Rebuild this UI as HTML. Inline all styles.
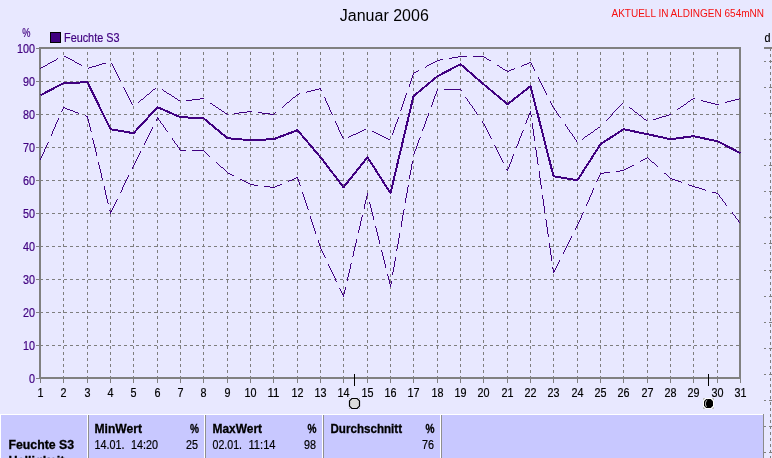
<!DOCTYPE html>
<html lang="de"><head><meta charset="utf-8"><title>Januar 2006</title>
<style>html,body{margin:0;padding:0;background:#e8e8ff;overflow:hidden}svg{display:block;will-change:transform}text{font-family:"Liberation Sans",Arial,sans-serif}.s{font-size:12.5px;stroke-width:.2px}.b{font-size:12.5px;font-weight:bold;stroke-width:.3px}</style></head><body>
<svg width="772" height="458" viewBox="0 0 772 458">
<rect width="772" height="458" fill="#e8e8ff"/>
<path d="M40 345.5H739M40 312.5H739M40 279.5H739M40 246.5H739M40 213.5H739M40 180.5H739M40 147.5H739M40 114.5H739M40 81.5H739M63.5 379V49M87.5 379V49M110.5 379V49M133.5 379V49M157.5 379V49M180.5 379V49M203.5 379V49M227.5 379V49M250.5 379V49M273.5 379V49M297.5 379V49M320.5 379V49M343.5 379V49M367.5 379V49M390.5 379V49M413.5 379V49M437.5 379V49M460.5 379V49M483.5 379V49M507.5 379V49M530.5 379V49M553.5 379V49M577.5 379V49M600.5 379V49M623.5 379V49M647.5 379V49M670.5 379V49M693.5 379V49M717.5 379V49" stroke="#7e7e7e" stroke-width="1" stroke-dasharray="3 3" fill="none" shape-rendering="crispEdges"/>
<path d="M36 378.5H39M36 345.5H39M36 312.5H39M36 279.5H39M36 246.5H39M36 213.5H39M36 180.5H39M36 147.5H39M36 114.5H39M36 81.5H39M36 48.5H39M40.5 379V383M63.5 379V383M87.5 379V383M110.5 379V383M133.5 379V383M157.5 379V383M180.5 379V383M203.5 379V383M227.5 379V383M250.5 379V383M273.5 379V383M297.5 379V383M320.5 379V383M343.5 379V383M367.5 379V383M390.5 379V383M413.5 379V383M437.5 379V383M460.5 379V383M483.5 379V383M507.5 379V383M530.5 379V383M553.5 379V383M577.5 379V383M600.5 379V383M623.5 379V383M647.5 379V383M670.5 379V383M693.5 379V383M717.5 379V383M740.5 379V383" stroke="#808080" stroke-width="1" fill="none" shape-rendering="crispEdges"/>
<rect x="40" y="48" width="700" height="330" fill="none" stroke="#808080" stroke-width="2" shape-rendering="crispEdges"/>
<path d="M40 68h1v1h-1zM41 67h2v1h-2zM43 66h2v1h-2zM45 65h2v1h-2zM47 64h1v1h-1zM48 63h2v1h-2zM50 62h2v1h-2zM52 61h2v1h-2zM54 60h2v1h-2zM56 59h1v1h-1zM57 58h1v1h-1zM64 56h2v1h-2zM66 57h2v1h-2zM68 58h2v1h-2zM70 59h2v1h-2zM72 60h2v1h-2zM74 61h1v1h-1zM75 62h2v1h-2zM77 63h2v1h-2zM79 64h2v1h-2zM81 65h1v1h-1zM88 68h1v1h-1zM89 67h3v1h-3zM92 66h4v1h-4zM96 65h3v1h-3zM99 64h3v1h-3zM102 63h4v1h-4zM111 63h1v1h-1zM112 64h1v2h-1zM113 66h1v2h-1zM114 68h1v2h-1zM115 70h1v2h-1zM116 72h1v2h-1zM117 74h1v2h-1zM118 76h1v2h-1zM119 78h1v2h-1zM120 80h1v1h-1zM123 87h1v1h-1zM124 88h1v2h-1zM125 90h1v2h-1zM126 92h1v2h-1zM127 94h1v2h-1zM128 96h1v2h-1zM129 98h1v2h-1zM130 100h1v2h-1zM131 102h1v2h-1zM132 104h1v1h-1zM138 102h1v1h-1zM139 101h1v1h-1zM140 100h1v1h-1zM141 99h2v1h-2zM143 98h1v1h-1zM144 97h1v1h-1zM145 96h1v1h-1zM146 95h1v1h-1zM147 94h2v1h-2zM149 93h1v1h-1zM150 92h1v1h-1zM151 91h1v1h-1zM152 90h1v1h-1zM153 89h2v1h-2zM155 88h1v1h-1zM162 89h1v1h-1zM163 90h1v1h-1zM164 91h2v1h-2zM166 92h1v1h-1zM167 93h2v1h-2zM169 94h2v1h-2zM171 95h1v1h-1zM172 96h2v1h-2zM174 97h1v1h-1zM175 98h2v1h-2zM177 99h1v1h-1zM178 100h2v1h-2zM186 100h6v1h-6zM192 99h8v1h-8zM200 98h3v1h-3zM203 98h1v1h-1zM210 103h2v1h-2zM212 104h1v1h-1zM213 105h2v1h-2zM215 106h1v1h-1zM216 107h2v1h-2zM218 108h1v1h-1zM219 109h2v1h-2zM221 110h1v1h-1zM222 111h2v1h-2zM224 112h1v1h-1zM225 113h2v1h-2zM227 114h1v1h-1zM234 113h5v1h-5zM239 112h8v1h-8zM247 111h3v1h-3zM250 111h2v1h-2zM258 112h4v1h-4zM262 113h8v1h-8zM270 114h3v1h-3zM273 114h1v1h-1zM274 113h1v1h-1zM275 112h1v1h-1zM282 107h1v1h-1zM283 106h1v1h-1zM284 105h1v1h-1zM285 104h1v1h-1zM286 103h1v1h-1zM287 102h2v1h-2zM289 101h1v1h-1zM290 100h1v1h-1zM291 99h1v1h-1zM292 98h1v1h-1zM293 97h2v1h-2zM295 96h1v1h-1zM296 95h1v1h-1zM297 94h2v1h-2zM299 93h1v1h-1zM306 92h1v1h-1zM307 91h4v1h-4zM311 90h4v1h-4zM315 89h4v1h-4zM319 88h1v1h-1zM320 88h1v2h-1zM321 90h1v1h-1zM324 97h1v1h-1zM325 98h1v3h-1zM326 101h1v2h-1zM327 103h1v2h-1zM328 105h1v2h-1zM329 107h1v3h-1zM330 110h1v2h-1zM331 112h1v2h-1zM332 114h1v1h-1zM335 121h1v2h-1zM336 123h1v2h-1zM337 125h1v2h-1zM338 127h1v3h-1zM339 130h1v2h-1zM340 132h1v2h-1zM341 134h1v2h-1zM342 136h1v2h-1zM343 138h1v1h-1zM348 137h1v1h-1zM349 136h2v1h-2zM351 135h2v1h-2zM353 134h3v1h-3zM356 133h2v1h-2zM358 132h2v1h-2zM360 131h2v1h-2zM362 130h2v1h-2zM364 129h2v1h-2zM372 131h2v1h-2zM374 132h2v1h-2zM376 133h2v1h-2zM378 134h2v1h-2zM380 135h2v1h-2zM382 136h2v1h-2zM384 137h2v1h-2zM386 138h2v1h-2zM388 139h2v1h-2zM392 133h1v2h-1zM393 130h1v3h-1zM394 127h1v3h-1zM395 124h1v3h-1zM396 122h1v2h-1zM397 119h1v3h-1zM398 117h1v2h-1zM400 110h1v1h-1zM401 107h1v3h-1zM402 104h1v3h-1zM403 101h1v3h-1zM404 98h1v3h-1zM405 95h1v3h-1zM406 93h1v2h-1zM409 84h1v3h-1zM410 81h1v3h-1zM411 78h1v3h-1zM412 75h1v3h-1zM413 74h1v1h-1zM413 73h1v1h-1zM414 72h2v1h-2zM416 71h2v1h-2zM418 70h1v1h-1zM425 67h1v1h-1zM426 66h1v1h-1zM427 65h2v1h-2zM429 64h2v1h-2zM431 63h2v1h-2zM433 62h2v1h-2zM435 61h2v1h-2zM437 60h3v1h-3zM440 59h3v1h-3zM449 58h3v1h-3zM452 57h6v1h-6zM458 56h2v1h-2zM460 56h7v1h-7zM473 56h10v1h-10zM483 56h1v1h-1zM484 57h2v1h-2zM486 58h1v1h-1zM487 59h2v1h-2zM489 60h2v1h-2zM497 65h2v1h-2zM499 66h1v1h-1zM500 67h2v1h-2zM502 68h1v1h-1zM503 69h2v1h-2zM505 70h2v1h-2zM507 71h2v1h-2zM509 70h2v1h-2zM511 69h3v1h-3zM514 68h1v1h-1zM521 66h1v1h-1zM522 65h2v1h-2zM524 64h3v1h-3zM527 63h2v1h-2zM529 62h1v1h-1zM530 62h1v1h-1zM531 63h1v2h-1zM532 65h1v2h-1zM533 67h1v2h-1zM534 69h1v2h-1zM538 77h1v2h-1zM539 79h1v2h-1zM540 81h1v2h-1zM541 83h1v2h-1zM542 85h1v2h-1zM543 87h1v2h-1zM544 89h1v2h-1zM545 91h1v2h-1zM546 93h1v2h-1zM550 101h1v2h-1zM551 103h1v2h-1zM552 105h1v2h-1zM553 107h1v1h-1zM554 108h1v2h-1zM555 110h1v1h-1zM556 111h1v2h-1zM557 113h1v1h-1zM558 114h1v2h-1zM559 116h1v1h-1zM560 117h1v1h-1zM565 124h1v2h-1zM566 126h1v1h-1zM567 127h1v2h-1zM568 129h1v1h-1zM569 130h1v2h-1zM570 132h1v1h-1zM571 133h1v1h-1zM572 134h1v2h-1zM573 136h1v1h-1zM574 137h1v2h-1zM575 139h1v1h-1zM576 140h1v2h-1zM582 139h1v1h-1zM583 138h1v1h-1zM584 137h1v1h-1zM585 136h2v1h-2zM587 135h1v1h-1zM588 134h2v1h-2zM590 133h1v1h-1zM591 132h2v1h-2zM593 131h1v1h-1zM594 130h1v1h-1zM595 129h2v1h-2zM597 128h1v1h-1zM598 127h2v1h-2zM606 120h1v1h-1zM607 119h1v1h-1zM608 118h1v1h-1zM609 117h1v1h-1zM610 116h1v1h-1zM611 115h1v1h-1zM612 113h1v2h-1zM613 112h1v1h-1zM614 111h1v1h-1zM615 110h1v1h-1zM616 109h1v1h-1zM617 108h1v1h-1zM618 107h1v1h-1zM619 106h1v1h-1zM620 105h1v1h-1zM621 104h1v1h-1zM622 103h1v1h-1zM629 107h1v1h-1zM630 108h2v1h-2zM632 109h1v1h-1zM633 110h1v1h-1zM634 111h1v1h-1zM635 112h2v1h-2zM637 113h1v1h-1zM638 114h1v1h-1zM639 115h2v1h-2zM641 116h1v1h-1zM642 117h1v1h-1zM643 118h1v1h-1zM644 119h2v1h-2zM646 120h1v1h-1zM653 119h3v1h-3zM656 118h3v1h-3zM659 117h3v1h-3zM662 116h4v1h-4zM666 115h3v1h-3zM669 114h1v1h-1zM670 114h1v1h-1zM677 109h1v1h-1zM678 108h2v1h-2zM680 107h1v1h-1zM681 106h2v1h-2zM683 105h1v1h-1zM684 104h2v1h-2zM686 103h1v1h-1zM687 102h1v1h-1zM688 101h2v1h-2zM690 100h1v1h-1zM691 99h2v1h-2zM693 98h2v1h-2zM701 100h2v1h-2zM703 101h4v1h-4zM707 102h4v1h-4zM711 103h4v1h-4zM715 104h2v1h-2zM717 104h2v1h-2zM725 102h2v1h-2zM727 101h4v1h-4zM731 100h4v1h-4zM735 99h4v1h-4zM739 98h1v1h-1z" fill="#400080" shape-rendering="crispEdges"/>
<path d="M40 158h1v2h-1zM41 156h1v2h-1zM42 154h1v2h-1zM43 152h1v2h-1zM44 149h1v3h-1zM45 147h1v2h-1zM46 145h1v2h-1zM47 143h1v2h-1zM48 142h1v1h-1zM51 134h1v2h-1zM52 131h1v3h-1zM53 129h1v2h-1zM54 127h1v2h-1zM55 124h1v3h-1zM56 122h1v2h-1zM57 120h1v2h-1zM58 118h1v2h-1zM61 111h1v1h-1zM62 109h1v2h-1zM63 108h1v1h-1zM63 107h2v1h-2zM65 108h2v1h-2zM67 109h3v1h-3zM70 110h3v1h-3zM73 111h2v1h-2zM75 112h3v1h-3zM78 113h1v1h-1zM85 115h1v1h-1zM86 116h1v1h-1zM87 116h1v3h-1zM88 119h1v4h-1zM89 123h1v4h-1zM90 127h1v4h-1zM91 131h1v1h-1zM92 138h1v2h-1zM93 140h1v4h-1zM94 144h1v4h-1zM95 148h1v4h-1zM96 152h1v4h-1zM98 162h1v3h-1zM99 165h1v4h-1zM100 169h1v4h-1zM101 173h1v5h-1zM102 178h1v2h-1zM104 186h1v4h-1zM105 190h1v5h-1zM106 195h1v4h-1zM107 199h1v4h-1zM108 203h1v1h-1zM109 210h1v1h-1zM110 211h1v2h-1zM110 212h1v2h-1zM111 210h1v2h-1zM112 208h1v2h-1zM113 206h1v2h-1zM114 204h1v2h-1zM115 202h1v2h-1zM116 200h1v2h-1zM117 199h1v1h-1zM120 192h1v1h-1zM121 190h1v2h-1zM122 187h1v3h-1zM123 185h1v2h-1zM124 183h1v2h-1zM125 181h1v2h-1zM126 179h1v2h-1zM127 177h1v2h-1zM128 175h1v2h-1zM132 167h1v2h-1zM133 166h1v1h-1zM133 165h1v1h-1zM134 163h1v2h-1zM135 161h1v2h-1zM136 159h1v2h-1zM137 157h1v2h-1zM138 155h1v2h-1zM139 153h1v2h-1zM140 151h1v2h-1zM144 143h1v2h-1zM145 141h1v2h-1zM146 139h1v2h-1zM147 137h1v2h-1zM148 135h1v2h-1zM149 133h1v2h-1zM150 131h1v2h-1zM151 129h1v2h-1zM152 127h1v2h-1zM156 119h1v2h-1zM157 118h1v1h-1zM157 117h1v1h-1zM158 118h1v2h-1zM159 120h1v1h-1zM160 121h1v2h-1zM161 123h1v1h-1zM162 124h1v1h-1zM163 125h1v2h-1zM164 127h1v1h-1zM165 128h1v2h-1zM166 130h1v1h-1zM167 131h1v1h-1zM172 138h1v2h-1zM173 140h1v1h-1zM174 141h1v2h-1zM175 143h1v1h-1zM176 144h1v1h-1zM177 145h1v2h-1zM178 147h1v1h-1zM179 148h1v2h-1zM180 150h6v1h-6zM192 150h11v1h-11zM203 150h1v1h-1zM204 151h1v1h-1zM205 152h1v1h-1zM206 153h1v1h-1zM207 154h1v1h-1zM208 155h1v1h-1zM209 156h1v1h-1zM216 162h1v1h-1zM217 163h1v1h-1zM218 164h1v1h-1zM219 165h1v1h-1zM220 166h1v1h-1zM221 167h2v1h-2zM223 168h1v1h-1zM224 169h1v1h-1zM225 170h1v1h-1zM226 171h1v1h-1zM227 172h1v1h-1zM228 173h2v1h-2zM230 174h2v1h-2zM232 175h2v1h-2zM240 179h2v1h-2zM242 180h2v1h-2zM244 181h2v1h-2zM246 182h2v1h-2zM248 183h2v1h-2zM250 184h4v1h-4zM254 185h4v1h-4zM264 186h6v1h-6zM270 187h3v1h-3zM273 187h2v1h-2zM275 186h2v1h-2zM277 185h3v1h-3zM280 184h2v1h-2zM288 181h1v1h-1zM289 180h3v1h-3zM292 179h2v1h-2zM294 178h2v1h-2zM296 177h1v1h-1zM297 177h1v2h-1zM298 179h1v3h-1zM299 182h1v3h-1zM300 185h1v1h-1zM302 192h1v2h-1zM303 194h1v3h-1zM304 197h1v3h-1zM305 200h1v3h-1zM306 203h1v3h-1zM307 206h1v3h-1zM308 209h1v1h-1zM310 216h1v3h-1zM311 219h1v3h-1zM312 222h1v3h-1zM313 225h1v3h-1zM314 228h1v3h-1zM315 231h1v3h-1zM318 240h1v3h-1zM319 243h1v3h-1zM320 246h1v1h-1zM320 247h1v2h-1zM321 249h1v2h-1zM322 251h1v2h-1zM323 253h1v2h-1zM324 255h1v2h-1zM325 257h1v1h-1zM328 264h1v2h-1zM329 266h1v2h-1zM330 268h1v2h-1zM331 270h1v2h-1zM332 272h1v2h-1zM333 274h1v2h-1zM334 276h1v2h-1zM335 278h1v3h-1zM336 281h1v1h-1zM339 288h1v1h-1zM340 289h1v2h-1zM341 291h1v2h-1zM342 293h1v2h-1zM343 295h1v1h-1zM343 294h1v3h-1zM344 290h1v4h-1zM345 287h1v3h-1zM347 277h1v4h-1zM348 273h1v4h-1zM349 269h1v4h-1zM350 264h1v5h-1zM351 263h1v1h-1zM352 256h1v1h-1zM353 251h1v5h-1zM354 247h1v4h-1zM355 243h1v4h-1zM356 239h1v4h-1zM358 230h1v3h-1zM359 226h1v4h-1zM360 221h1v5h-1zM361 217h1v4h-1zM362 215h1v2h-1zM364 204h1v5h-1zM365 200h1v4h-1zM366 196h1v4h-1zM367 194h1v2h-1zM367 193h1v3h-1zM369 202h1v2h-1zM370 204h1v4h-1zM371 208h1v4h-1zM372 212h1v4h-1zM373 216h1v4h-1zM375 226h1v2h-1zM376 228h1v4h-1zM377 232h1v4h-1zM378 236h1v4h-1zM379 240h1v4h-1zM381 250h1v2h-1zM382 252h1v4h-1zM383 256h1v4h-1zM384 260h1v4h-1zM385 264h1v4h-1zM387 274h1v2h-1zM388 276h1v4h-1zM389 280h1v4h-1zM390 284h1v2h-1zM390 284h1v3h-1zM391 281h1v3h-1zM392 272h1v3h-1zM393 267h1v5h-1zM394 261h1v6h-1zM395 257h1v4h-1zM396 249h1v2h-1zM397 244h1v5h-1zM398 238h1v6h-1zM399 233h1v5h-1zM401 221h1v6h-1zM402 215h1v6h-1zM403 210h1v5h-1zM404 209h1v1h-1zM405 198h1v5h-1zM406 193h1v5h-1zM407 187h1v6h-1zM408 185h1v2h-1zM409 175h1v4h-1zM410 170h1v5h-1zM411 164h1v6h-1zM412 161h1v3h-1zM413 154h1v1h-1zM414 151h1v3h-1zM415 149h1v2h-1zM416 146h1v3h-1zM417 143h1v3h-1zM418 140h1v3h-1zM419 138h1v2h-1zM420 137h1v1h-1zM422 129h1v2h-1zM423 127h1v2h-1zM424 124h1v3h-1zM425 121h1v3h-1zM426 118h1v3h-1zM427 116h1v2h-1zM428 113h1v3h-1zM431 105h1v2h-1zM432 102h1v3h-1zM433 99h1v3h-1zM434 96h1v3h-1zM435 94h1v2h-1zM436 91h1v3h-1zM437 90h1v1h-1zM437 89h1v1h-1zM444 89h16v1h-16zM460 89h1v1h-1zM461 90h1v1h-1zM465 97h1v1h-1zM466 98h1v1h-1zM467 99h1v2h-1zM468 101h1v1h-1zM469 102h1v2h-1zM470 104h1v1h-1zM471 105h1v1h-1zM472 106h1v2h-1zM473 108h1v1h-1zM474 109h1v2h-1zM475 111h1v1h-1zM476 112h1v2h-1zM477 114h1v1h-1zM482 121h1v2h-1zM483 123h1v1h-1zM484 124h1v2h-1zM485 126h1v2h-1zM486 128h1v2h-1zM487 130h1v2h-1zM488 132h1v2h-1zM489 134h1v2h-1zM490 136h1v2h-1zM491 138h1v1h-1zM494 145h1v1h-1zM495 146h1v2h-1zM496 148h1v2h-1zM497 150h1v2h-1zM498 152h1v2h-1zM499 154h1v2h-1zM500 156h1v2h-1zM501 158h1v2h-1zM502 160h1v2h-1zM503 162h1v1h-1zM506 169h1v1h-1zM507 169h1v2h-1zM508 167h1v2h-1zM509 164h1v3h-1zM510 162h1v2h-1zM511 159h1v3h-1zM512 156h1v3h-1zM513 154h1v2h-1zM516 146h1v2h-1zM517 144h1v2h-1zM518 141h1v3h-1zM519 138h1v3h-1zM520 136h1v2h-1zM521 133h1v3h-1zM522 131h1v2h-1zM523 130h1v1h-1zM525 123h1v1h-1zM526 120h1v3h-1zM527 118h1v2h-1zM528 115h1v3h-1zM529 113h1v2h-1zM530 112h1v1h-1zM530 111h1v4h-1zM531 115h1v2h-1zM532 123h1v6h-1zM533 129h1v7h-1zM534 136h1v5h-1zM535 147h1v3h-1zM536 150h1v7h-1zM537 157h1v7h-1zM538 164h1v1h-1zM539 171h1v7h-1zM540 178h1v7h-1zM541 185h1v4h-1zM542 195h1v4h-1zM543 199h1v7h-1zM544 206h1v7h-1zM545 219h1v1h-1zM546 220h1v7h-1zM547 227h1v7h-1zM548 234h1v3h-1zM549 243h1v5h-1zM550 248h1v7h-1zM551 255h1v6h-1zM552 267h1v2h-1zM553 269h1v3h-1zM553 272h1v1h-1zM554 270h1v2h-1zM555 268h1v2h-1zM556 266h1v2h-1zM557 264h1v2h-1zM558 262h1v2h-1zM559 260h1v2h-1zM563 252h1v2h-1zM564 250h1v2h-1zM565 248h1v2h-1zM566 246h1v2h-1zM567 244h1v2h-1zM568 242h1v2h-1zM569 240h1v2h-1zM570 238h1v2h-1zM571 236h1v2h-1zM575 228h1v2h-1zM576 226h1v2h-1zM577 224h1v2h-1zM578 222h1v2h-1zM579 220h1v2h-1zM580 218h1v2h-1zM581 215h1v3h-1zM582 213h1v2h-1zM583 212h1v1h-1zM586 204h1v2h-1zM587 202h1v2h-1zM588 200h1v2h-1zM589 197h1v3h-1zM590 195h1v2h-1zM591 193h1v2h-1zM592 190h1v3h-1zM593 188h1v2h-1zM596 181h1v1h-1zM597 179h1v2h-1zM598 177h1v2h-1zM599 175h1v2h-1zM600 174h1v1h-1zM600 173h4v1h-4zM604 172h6v1h-6zM616 171h4v1h-4zM620 170h3v1h-3zM623 170h1v1h-1zM624 169h2v1h-2zM626 168h2v1h-2zM628 167h2v1h-2zM630 166h2v1h-2zM632 165h2v1h-2zM640 161h1v1h-1zM641 160h2v1h-2zM643 159h2v1h-2zM645 158h2v1h-2zM647 157h1v1h-1zM648 158h1v1h-1zM649 159h1v1h-1zM650 160h1v1h-1zM651 161h1v1h-1zM652 162h2v1h-2zM654 163h1v1h-1zM655 164h1v1h-1zM656 165h1v1h-1zM657 166h1v1h-1zM664 173h2v1h-2zM666 174h1v1h-1zM667 175h1v1h-1zM668 176h1v1h-1zM669 177h1v1h-1zM670 178h2v1h-2zM672 179h3v1h-3zM675 180h3v1h-3zM678 181h3v1h-3zM681 182h1v1h-1zM688 184h1v1h-1zM689 185h3v1h-3zM692 186h1v1h-1zM693 186h2v1h-2zM695 187h4v1h-4zM699 188h3v1h-3zM702 189h3v1h-3zM705 190h1v1h-1zM712 192h4v1h-4zM716 193h1v1h-1zM717 193h1v1h-1zM718 194h1v1h-1zM719 195h1v2h-1zM720 197h1v1h-1zM721 198h1v1h-1zM722 199h1v2h-1zM723 201h1v1h-1zM724 202h1v1h-1zM725 203h1v2h-1zM726 205h1v1h-1zM732 212h1v2h-1zM733 214h1v1h-1zM734 215h1v1h-1zM735 216h1v2h-1zM736 218h1v1h-1zM737 219h1v1h-1zM738 220h1v2h-1zM739 222h1v1h-1z" fill="#400080" shape-rendering="crispEdges"/>
<polyline points="40,95 63,83 87,82 110,129 133,133 157,107 180,117 203,118 227,138 250,140 273,139 297,130 320,157 343,187 367,157 390,193 413,96 437,76 460,64 483,84 507,104 530,86 553,176 577,180 600,144 623,129 647,134 670,139 693,136 717,141 740,153" fill="none" stroke="#400080" stroke-width="2" stroke-linejoin="round" shape-rendering="crispEdges" transform="translate(0.5,0.2)"/>
<rect x="764" y="47" width="8" height="2" fill="#808080"/>
<path d="M770.5 48V458" stroke="#7e7e7e" stroke-width="1" stroke-dasharray="3 3" fill="none" shape-rendering="crispEdges"/>
<path d="M764 61.5H766M769 61.5H772M764 87.5H766M769 87.5H772M764 113.5H766M769 113.5H772M764 139.5H766M769 139.5H772M764 165.5H766M769 165.5H772M764 191.5H766M769 191.5H772M764 217.5H766M769 217.5H772M764 243.5H766M769 243.5H772M764 270.5H766M769 270.5H772M764 296.5H766M769 296.5H772M764 322.5H766M769 322.5H772M764 348.5H766M769 348.5H772M764 374.5H766M769 374.5H772M764 400.5H766M769 400.5H772M764 426.5H766M769 426.5H772M764 452.5H766M769 452.5H772" stroke="#7e7e7e" stroke-width="1" fill="none" shape-rendering="crispEdges"/>
<path d="M354.5 374V386M708.5 374V386" stroke="#000" stroke-width="1" shape-rendering="crispEdges"/>
<path d="M349 398h1v1h-1zM359 398h1v1h-1zM349 408h1v1h-1zM359 408h1v1h-1z" fill="#c0c0c0"/>
<polygon points="351.9,398.5 357.1,398.5 359.5,400.9 359.5,406.1 357.1,408.5 351.9,408.5 349.5,406.1 349.5,400.9" fill="#dcdcdc" stroke="#000" stroke-width="1.2"/>
<path d="M703 398h2v2h-2zM712 398h2v2h-2zM703 407h2v2h-2zM712 407h2v2h-2z" fill="#c0c0c0"/>
<polygon points="705.5,398 711.5,398 714,400.5 714,406.5 711.5,409 705.5,409 703,406.5 703,400.5" fill="#fff"/>
<polygon points="706.2,399 710.8,399 713,401.2 713,405.8 710.8,408 706.2,408 704,405.8 704,401.2" fill="#000"/>
<path d="M707.2 400 C705 401.6,705 405.4,706.6 406.8" stroke="#fff" stroke-width="0.9" fill="none"/>
<rect x="0" y="414" width="763" height="1" fill="#fff"/>
<rect x="0" y="414" width="1" height="44" fill="#fff"/>
<rect x="1" y="415" width="762" height="43" fill="#c8c8ff"/>
<rect x="763" y="414" width="1" height="44" fill="#8a8a8a"/>
<rect x="87" y="415" width="1" height="43" fill="#fff"/><rect x="88" y="415" width="1" height="43" fill="#8f8f8f"/>
<rect x="204" y="415" width="1" height="43" fill="#fff"/><rect x="205" y="415" width="1" height="43" fill="#8f8f8f"/>
<rect x="322" y="415" width="1" height="43" fill="#fff"/><rect x="323" y="415" width="1" height="43" fill="#8f8f8f"/>
<rect x="440" y="415" width="1" height="43" fill="#fff"/><rect x="441" y="415" width="1" height="43" fill="#8f8f8f"/>
<text x="384.3" y="20.8" font-size="16" text-anchor="middle" fill="#000">Januar 2006</text>
<text x="611.5" y="16.6" font-size="11" fill="#f51010" textLength="152.5" lengthAdjust="spacingAndGlyphs">AKTUELL IN ALDINGEN 654mNN</text>
<text x="22.3" y="36.7" class="s" fill="#400080" stroke="#400080" textLength="8.2" lengthAdjust="spacingAndGlyphs">%</text>
<rect x="50.5" y="32.5" width="10" height="10" fill="#400080" stroke="#000" stroke-width="1"/>
<text x="64" y="42" class="s" fill="#400080" stroke="#400080" textLength="55.5" lengthAdjust="spacingAndGlyphs">Feuchte S3</text>
<text x="764.5" y="42" class="s" fill="#000" stroke="#000" textLength="6" lengthAdjust="spacingAndGlyphs">d</text>
<text x="29" y="383" class="s" fill="#400080" stroke="#400080" textLength="6" lengthAdjust="spacingAndGlyphs">0</text>
<text x="23" y="350" class="s" fill="#400080" stroke="#400080" textLength="12" lengthAdjust="spacingAndGlyphs">10</text>
<text x="23" y="317" class="s" fill="#400080" stroke="#400080" textLength="12" lengthAdjust="spacingAndGlyphs">20</text>
<text x="23" y="284" class="s" fill="#400080" stroke="#400080" textLength="12" lengthAdjust="spacingAndGlyphs">30</text>
<text x="23" y="251" class="s" fill="#400080" stroke="#400080" textLength="12" lengthAdjust="spacingAndGlyphs">40</text>
<text x="23" y="218" class="s" fill="#400080" stroke="#400080" textLength="12" lengthAdjust="spacingAndGlyphs">50</text>
<text x="23" y="185" class="s" fill="#400080" stroke="#400080" textLength="12" lengthAdjust="spacingAndGlyphs">60</text>
<text x="23" y="152" class="s" fill="#400080" stroke="#400080" textLength="12" lengthAdjust="spacingAndGlyphs">70</text>
<text x="23" y="119" class="s" fill="#400080" stroke="#400080" textLength="12" lengthAdjust="spacingAndGlyphs">80</text>
<text x="23" y="86" class="s" fill="#400080" stroke="#400080" textLength="12" lengthAdjust="spacingAndGlyphs">90</text>
<text x="17" y="53" class="s" fill="#400080" stroke="#400080" textLength="18" lengthAdjust="spacingAndGlyphs">100</text>
<text x="37.5" y="397" class="s" fill="#000" stroke="#000" textLength="6" lengthAdjust="spacingAndGlyphs">1</text>
<text x="60.5" y="397" class="s" fill="#000" stroke="#000" textLength="6" lengthAdjust="spacingAndGlyphs">2</text>
<text x="84.5" y="397" class="s" fill="#000" stroke="#000" textLength="6" lengthAdjust="spacingAndGlyphs">3</text>
<text x="107.5" y="397" class="s" fill="#000" stroke="#000" textLength="6" lengthAdjust="spacingAndGlyphs">4</text>
<text x="130.5" y="397" class="s" fill="#000" stroke="#000" textLength="6" lengthAdjust="spacingAndGlyphs">5</text>
<text x="154.5" y="397" class="s" fill="#000" stroke="#000" textLength="6" lengthAdjust="spacingAndGlyphs">6</text>
<text x="177.5" y="397" class="s" fill="#000" stroke="#000" textLength="6" lengthAdjust="spacingAndGlyphs">7</text>
<text x="200.5" y="397" class="s" fill="#000" stroke="#000" textLength="6" lengthAdjust="spacingAndGlyphs">8</text>
<text x="224.5" y="397" class="s" fill="#000" stroke="#000" textLength="6" lengthAdjust="spacingAndGlyphs">9</text>
<text x="244.5" y="397" class="s" fill="#000" stroke="#000" textLength="12" lengthAdjust="spacingAndGlyphs">10</text>
<text x="267.5" y="397" class="s" fill="#000" stroke="#000" textLength="12" lengthAdjust="spacingAndGlyphs">11</text>
<text x="291.5" y="397" class="s" fill="#000" stroke="#000" textLength="12" lengthAdjust="spacingAndGlyphs">12</text>
<text x="314.5" y="397" class="s" fill="#000" stroke="#000" textLength="12" lengthAdjust="spacingAndGlyphs">13</text>
<text x="337.5" y="397" class="s" fill="#000" stroke="#000" textLength="12" lengthAdjust="spacingAndGlyphs">14</text>
<text x="361.5" y="397" class="s" fill="#000" stroke="#000" textLength="12" lengthAdjust="spacingAndGlyphs">15</text>
<text x="384.5" y="397" class="s" fill="#000" stroke="#000" textLength="12" lengthAdjust="spacingAndGlyphs">16</text>
<text x="407.5" y="397" class="s" fill="#000" stroke="#000" textLength="12" lengthAdjust="spacingAndGlyphs">17</text>
<text x="431.5" y="397" class="s" fill="#000" stroke="#000" textLength="12" lengthAdjust="spacingAndGlyphs">18</text>
<text x="454.5" y="397" class="s" fill="#000" stroke="#000" textLength="12" lengthAdjust="spacingAndGlyphs">19</text>
<text x="477.5" y="397" class="s" fill="#000" stroke="#000" textLength="12" lengthAdjust="spacingAndGlyphs">20</text>
<text x="501.5" y="397" class="s" fill="#000" stroke="#000" textLength="12" lengthAdjust="spacingAndGlyphs">21</text>
<text x="524.5" y="397" class="s" fill="#000" stroke="#000" textLength="12" lengthAdjust="spacingAndGlyphs">22</text>
<text x="547.5" y="397" class="s" fill="#000" stroke="#000" textLength="12" lengthAdjust="spacingAndGlyphs">23</text>
<text x="571.5" y="397" class="s" fill="#000" stroke="#000" textLength="12" lengthAdjust="spacingAndGlyphs">24</text>
<text x="594.5" y="397" class="s" fill="#000" stroke="#000" textLength="12" lengthAdjust="spacingAndGlyphs">25</text>
<text x="617.5" y="397" class="s" fill="#000" stroke="#000" textLength="12" lengthAdjust="spacingAndGlyphs">26</text>
<text x="641.5" y="397" class="s" fill="#000" stroke="#000" textLength="12" lengthAdjust="spacingAndGlyphs">27</text>
<text x="664.5" y="397" class="s" fill="#000" stroke="#000" textLength="12" lengthAdjust="spacingAndGlyphs">28</text>
<text x="687.5" y="397" class="s" fill="#000" stroke="#000" textLength="12" lengthAdjust="spacingAndGlyphs">29</text>
<text x="711.5" y="397" class="s" fill="#000" stroke="#000" textLength="12" lengthAdjust="spacingAndGlyphs">30</text>
<text x="734.5" y="397" class="s" fill="#000" stroke="#000" textLength="12" lengthAdjust="spacingAndGlyphs">31</text>
<text x="8.5" y="449" class="b" fill="#000" stroke="#000" textLength="65.5" lengthAdjust="spacingAndGlyphs">Feuchte S3</text>
<text x="8.5" y="465" class="b" fill="#000" stroke="#000" textLength="56" lengthAdjust="spacingAndGlyphs">Helligkeit</text>
<text x="94.5" y="433" class="b" fill="#000" stroke="#000" textLength="47.5" lengthAdjust="spacingAndGlyphs">MinWert</text>
<text x="190" y="433" class="b" fill="#000" stroke="#000" textLength="9" lengthAdjust="spacingAndGlyphs">%</text>
<text x="94.5" y="449" class="s" fill="#000" stroke="#000" textLength="30" lengthAdjust="spacingAndGlyphs">14.01.</text>
<text x="131" y="449" class="s" fill="#000" stroke="#000" textLength="27" lengthAdjust="spacingAndGlyphs">14:20</text>
<text x="186" y="449" class="s" fill="#000" stroke="#000" textLength="12" lengthAdjust="spacingAndGlyphs">25</text>
<text x="212.5" y="433" class="b" fill="#000" stroke="#000" textLength="49.5" lengthAdjust="spacingAndGlyphs">MaxWert</text>
<text x="307.5" y="433" class="b" fill="#000" stroke="#000" textLength="9" lengthAdjust="spacingAndGlyphs">%</text>
<text x="212.5" y="449" class="s" fill="#000" stroke="#000" textLength="29.5" lengthAdjust="spacingAndGlyphs">02.01.</text>
<text x="248.5" y="449" class="s" fill="#000" stroke="#000" textLength="27" lengthAdjust="spacingAndGlyphs">11:14</text>
<text x="304" y="449" class="s" fill="#000" stroke="#000" textLength="12" lengthAdjust="spacingAndGlyphs">98</text>
<text x="330.5" y="433" class="b" fill="#000" stroke="#000" textLength="71.5" lengthAdjust="spacingAndGlyphs">Durchschnitt</text>
<text x="425.5" y="433" class="b" fill="#000" stroke="#000" textLength="9" lengthAdjust="spacingAndGlyphs">%</text>
<text x="422" y="449" class="s" fill="#000" stroke="#000" textLength="12" lengthAdjust="spacingAndGlyphs">76</text>
</svg></body></html>
